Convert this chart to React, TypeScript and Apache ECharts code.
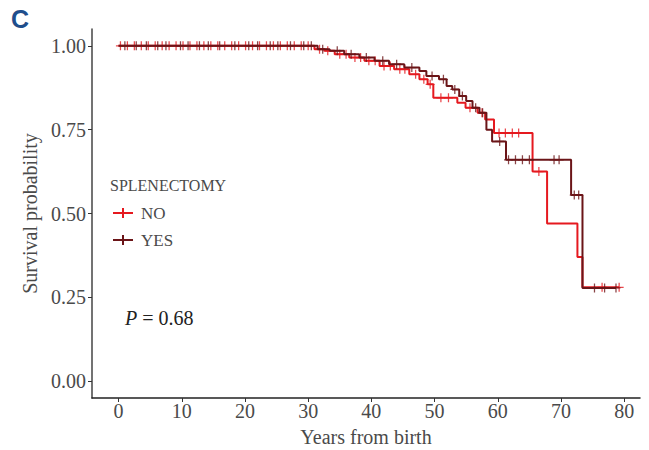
import React, { useEffect, useRef } from "react";
import * as echarts from "echarts";

// ---- data ----
const groupNames = ["NO", "YES"];
const xTicks = [0, 10, 20, 30, 40, 50, 60, 70, 80];
const yTicks = [0, 0.25, 0.5, 0.75, 1.0];

const noTimes = [0, 31.0, 32.6, 34.2, 36.5, 38.9, 41.3, 43.6, 46.0, 47.6, 48.9, 49.8, 53.6, 54.9, 56.8, 58.0, 59.4, 65.5, 67.8, 72.6, 73.4, 79.2];
const noSurv = [1.0, 0.99, 0.985, 0.975, 0.965, 0.955, 0.94, 0.93, 0.915, 0.9, 0.885, 0.845, 0.83, 0.815, 0.8, 0.78, 0.74, 0.625, 0.47, 0.37, 0.28, 0.28];

const yesTimes = [0, 31.5, 33.4, 35.7, 38.1, 40.5, 42.8, 45.2, 47.6, 48.7, 50.7, 51.9, 52.8, 53.9, 55.0, 56.0, 57.1, 58.2, 59.1, 61.3, 71.6, 73.4, 78.7];
const yesSurv = [1.0, 0.99, 0.985, 0.975, 0.965, 0.955, 0.945, 0.935, 0.925, 0.91, 0.9, 0.88, 0.87, 0.85, 0.835, 0.815, 0.8, 0.75, 0.715, 0.66, 0.555, 0.278, 0.278];

const noCensor = [0.3, 1.4, 2.5, 3.6, 4.7, 5.8, 6.9, 8.0, 9.1, 10.2, 11.3, 12.4, 13.5, 14.6, 15.7, 16.8, 17.9, 19.0, 20.1, 21.2, 22.3, 23.4, 24.5, 25.6, 26.7, 27.8, 28.9, 30.0, 31.8, 33.1, 35.0, 36.0, 37.4, 38.3, 39.6, 40.6, 42.0, 43.0, 44.5, 45.3, 47.0, 48.3, 49.3, 51.0, 52.2, 55.6, 57.5, 60.2, 61.2, 62.3, 63.3, 66.5, 76.5, 79.2];
const yesCensor = [1.0, 2.8, 4.4, 6.2, 7.5, 9.8, 11.0, 12.8, 14.2, 16.0, 18.4, 20.6, 22.0, 24.0, 25.2, 27.2, 29.3, 30.5, 32.3, 34.6, 36.8, 39.2, 41.8, 44.0, 46.4, 49.6, 51.4, 53.2, 54.4, 56.5, 57.6, 60.3, 61.7, 62.8, 63.9, 65.0, 68.9, 69.7, 72.1, 72.8, 75.3, 76.9, 78.7];

const pValueText = "0.68";
const panelLabel = "C";
const legendTitle = "SPLENECTOMY";
const xTitle = "Years from birth";
const yTitle = "Survival probability";

// ---- styles ----
const COLORS = ["#E5191F", "#6B1518"];
const SERIF = "Liberation Serif";
const TXT = "#4a4a4a";
const PLUS = "path://M-0.14,-1H0.14V-0.14H1V0.14H0.14V1H-0.14V0.14H-1V-0.14H-0.14Z";

function survAt(times: number[], surv: number[], t: number) {
  let s = surv[0];
  for (let i = 0; i < times.length; i++) {
    if (times[i] <= t) s = surv[i];
  }
  return s;
}

export default function App() {
  const ref = useRef<HTMLDivElement>(null);
  useEffect(() => {
    if (!ref.current) return;
    const chart = echarts.init(ref.current, null, { renderer: "svg" });
    const curves = [
      { times: noTimes, surv: noSurv, censor: noCensor },
      { times: yesTimes, surv: yesSurv, censor: yesCensor },
    ];
    const series: any[] = [];
    curves.forEach((c, i) => {
      series.push({
        type: "line",
        name: groupNames[i],
        step: "end",
        showSymbol: false,
        data: c.times.map((t, k) => [t, c.surv[k]]),
        lineStyle: { color: COLORS[i], width: 2 },
        itemStyle: { color: COLORS[i] },
        z: 2 + i,
        silent: true,
      });
      series.push({
        type: "scatter",
        name: groupNames[i] + " censored",
        symbol: PLUS,
        symbolSize: 9,
        symbolKeepAspect: true,
        data: c.censor.map((t) => [t, survAt(c.times, c.surv, t)]),
        itemStyle: { color: COLORS[i] },
        z: 2 + i,
        silent: true,
      });
    });

    const legendX = 113;
    const legendRows = [213, 240];
    const legendGraphics: any[] = [];
    groupNames.forEach((g, i) => {
      const y = legendRows[i];
      legendGraphics.push({
        type: "line",
        shape: { x1: legendX, y1: y, x2: legendX + 20, y2: y },
        style: { stroke: COLORS[i], lineWidth: 2 },
      });
      legendGraphics.push({
        type: "line",
        shape: { x1: legendX + 10, y1: y - 5, x2: legendX + 10, y2: y + 5 },
        style: { stroke: COLORS[i], lineWidth: 2 },
      });
      legendGraphics.push({
        type: "text",
        x: legendX + 28,
        y: y,
        style: { text: g, fontFamily: SERIF, fontSize: 17, fill: TXT, verticalAlign: "middle" },
      });
    });

    chart.setOption({
      animation: false,
      backgroundColor: "#ffffff",
      grid: { left: 92, right: 9, top: 29, bottom: 52, containLabel: false, outerBoundsMode: "none" },
      xAxis: {
        type: "value",
        min: -4.2,
        max: 82.5,
        name: xTitle,
        nameLocation: "middle",
        nameGap: 29,
        nameTextStyle: { fontFamily: SERIF, fontSize: 20, color: TXT },
        axisLine: { show: true, onZero: false, lineStyle: { color: "#222", width: 1.5 } },
        axisTick: { show: true, length: 4, customValues: xTicks, lineStyle: { color: "#333" } },
        axisLabel: { customValues: xTicks, fontFamily: SERIF, fontSize: 20, color: TXT, margin: 3 },
        splitLine: { show: false },
      },
      yAxis: {
        type: "value",
        min: -0.05,
        max: 1.05,
        name: yTitle,
        nameLocation: "middle",
        nameGap: 49,
        nameTextStyle: { fontFamily: SERIF, fontSize: 20, color: TXT },
        axisLine: { show: true, onZero: false, lineStyle: { color: "#444", width: 1.5 } },
        axisTick: { show: true, length: 4, customValues: yTicks, lineStyle: { color: "#333" } },
        axisLabel: {
          customValues: yTicks,
          fontFamily: SERIF,
          fontSize: 20,
          color: TXT,
          margin: 6,
          formatter: (v: number) => v.toFixed(2),
        },
        splitLine: { show: false },
      },
      series,
      graphic: [
        {
          type: "text",
          left: 11,
          top: 6,
          style: { text: panelLabel, fontFamily: "Liberation Sans", fontWeight: "bold", fontSize: 25, fill: "#1F4E8C" },
        },
        {
          type: "text",
          x: 110,
          y: 185,
          style: { text: legendTitle, fontFamily: SERIF, fontSize: 16, fill: TXT, verticalAlign: "middle" },
        },
        ...legendGraphics,
        {
          type: "text",
          x: 125,
          y: 318,
          style: {
            text: "{i|P}{n| = " + pValueText + "}",
            verticalAlign: "middle",
            fontFamily: SERIF,
            fontSize: 20,
            fill: "#222",
            rich: {
              i: { fontStyle: "italic", fontFamily: SERIF, fontSize: 20, fill: "#222" },
              n: { fontFamily: SERIF, fontSize: 20, fill: "#222" },
            },
          },
        },
      ],
    });
    return () => chart.dispose();
  }, []);
  return <div ref={ref} style={{ position: "fixed", left: 0, top: 0, width: 649, height: 450 }} />;
}
